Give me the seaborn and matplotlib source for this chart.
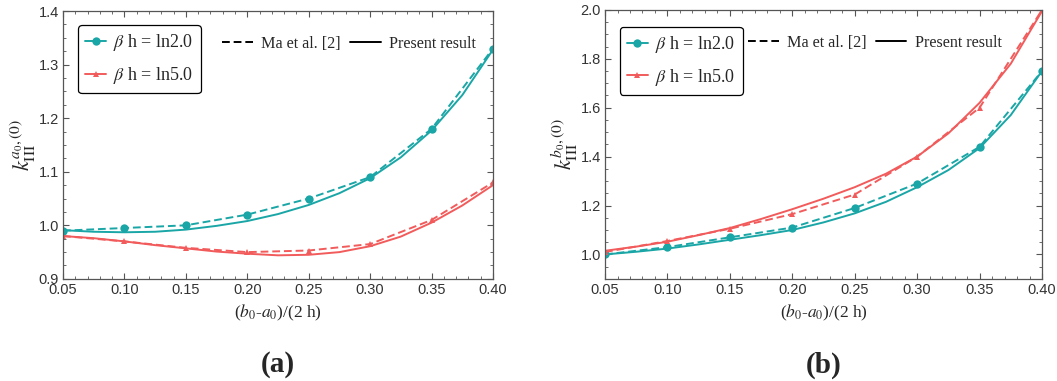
import numpy as np
import pandas as pd
import matplotlib
matplotlib.use("Agg")
import matplotlib.pyplot as plt
from matplotlib.lines import Line2D
from matplotlib.ticker import MultipleLocator, AutoMinorLocator, FormatStrFormatter
import seaborn as sns

# data

x_pts = [0.05, 0.10, 0.15, 0.20, 0.25, 0.30, 0.35, 0.40]
x_fine = [0.05, 0.075, 0.10, 0.125, 0.15, 0.175, 0.20, 0.225,
          0.25, 0.275, 0.30, 0.325, 0.35, 0.375, 0.40]

# panel (a)
a_ln2_ma = [0.990, 0.995, 1.000, 1.020, 1.050, 1.090, 1.180, 1.330]
a_ln5_ma = [0.980, 0.970, 0.958, 0.950, 0.953, 0.965, 1.010, 1.080]
a_ln2_present = [0.991, 0.988, 0.987, 0.988, 0.992, 0.999, 1.008, 1.021,
                 1.038, 1.060, 1.088, 1.127, 1.177, 1.243, 1.328]
a_ln5_present = [0.980, 0.976, 0.970, 0.963, 0.957, 0.951, 0.947, 0.944,
                 0.945, 0.950, 0.961, 0.979, 1.005, 1.037, 1.075]

# panel (b)
b_ln2_ma = [1.000, 1.030, 1.070, 1.110, 1.190, 1.290, 1.440, 1.750]
b_ln5_ma = [1.010, 1.055, 1.105, 1.165, 1.245, 1.400, 1.600, 2.000]
b_ln2_present = [1.000, 1.011, 1.024, 1.041, 1.060, 1.079, 1.100, 1.131,
                 1.168, 1.215, 1.275, 1.345, 1.435, 1.570, 1.750]
b_ln5_present = [1.015, 1.032, 1.052, 1.079, 1.108, 1.145, 1.185, 1.228,
                 1.275, 1.330, 1.400, 1.495, 1.620, 1.780, 1.995]

series_labels = [r"$\beta$ h = ln2.0", r"$\beta$ h = ln5.0"]
ref_labels = ["Ma et al. [2]", "Present result"]
panel_labels = ["(a)", "(b)"]
y_labels = [r"$k_{\mathrm{III}}^{a_0,(0)}$", r"$k_{\mathrm{III}}^{b_0,(0)}$"]
x_label = r"($b_0$-$a_0$)/(2 h)"

teal = "#1aa6a6"
red = "#f25b5b"

sns.set_theme(style="ticks")
plt.rcParams["font.family"] = ["Liberation Serif", "DejaVu Serif"]
plt.rcParams["mathtext.fontset"] = "stix"

fig = plt.figure(figsize=(10.57, 3.81), dpi=100)
ax_a = fig.add_axes([0.0596, 0.268, 0.4068, 0.703])
ax_b = fig.add_axes([0.5724, 0.268, 0.4134, 0.706])

panels = [
    (ax_a, a_ln2_ma, a_ln5_ma, a_ln2_present, a_ln5_present, (0.9, 1.4), 0.1,
     (0.035, 0.948), (0.370, 0.877)),
    (ax_b, b_ln2_ma, b_ln5_ma, b_ln2_present, b_ln5_present, (0.9, 2.0), 0.2,
     (0.034, 0.937), (0.327, 0.877)),
]

for i, (ax, ln2_ma, ln5_ma, ln2_pr, ln5_pr, ylim, ystep, anc1, anc2) in enumerate(panels):
    pts = pd.DataFrame({"x": x_pts, "ln2": ln2_ma, "ln5": ln5_ma})
    fine = pd.DataFrame({"x": x_fine, "ln2": ln2_pr, "ln5": ln5_pr})

    sns.lineplot(data=fine, x="x", y="ln2", ax=ax, color=teal, lw=1.4)
    sns.lineplot(data=fine, x="x", y="ln5", ax=ax, color=red, lw=1.4)
    sns.lineplot(data=pts, x="x", y="ln2", ax=ax, color=teal, lw=1.4,
                 linestyle=(0, (4, 2)), marker="o", markersize=6,
                 markeredgewidth=0)
    sns.lineplot(data=pts, x="x", y="ln5", ax=ax, color=red, lw=1.4,
                 linestyle=(0, (4, 2)), marker="^", markersize=5,
                 markeredgewidth=0)

    ax.set_xlim(0.05, 0.40)
    ax.set_ylim(*ylim)
    ax.xaxis.set_major_locator(MultipleLocator(0.05))
    ax.yaxis.set_major_locator(MultipleLocator(ystep))
    ax.xaxis.set_minor_locator(AutoMinorLocator(5))
    ax.yaxis.set_minor_locator(AutoMinorLocator(4))
    ax.xaxis.set_major_formatter(FormatStrFormatter("%.2f"))
    ax.yaxis.set_major_formatter(FormatStrFormatter("%.1f"))
    ax.tick_params(which="both", direction="in", top=True, right=True,
                   color="#555555")
    ax.tick_params(which="major", length=4, width=0.8, pad=3)
    ax.tick_params(which="minor", length=2, width=0.6)
    for lab in ax.get_xticklabels() + ax.get_yticklabels():
        lab.set_family(["Liberation Sans"])
        lab.set_fontsize(10.5)
        lab.set_color("#333333")
    for sp in ax.spines.values():
        sp.set_color("#555555")
        sp.set_linewidth(0.9)

    ax.set_xlabel(x_label, fontsize=12.5, labelpad=4)
    ax.set_ylabel(y_labels[i], fontsize=16, labelpad=0)

    h1 = [Line2D([], [], color=teal, marker="o", markersize=6, lw=1.4,
                 markeredgewidth=0),
          Line2D([], [], color=red, marker="^", markersize=5, lw=1.4,
                 markeredgewidth=0)]
    leg1 = ax.legend(h1, series_labels, loc="upper left", bbox_to_anchor=anc1,
                     borderaxespad=0, fontsize=13,
                     frameon=True, fancybox=True, edgecolor="black",
                     framealpha=1, handlelength=1.15, handletextpad=0.4,
                     labelspacing=0.65, borderpad=0.4)
    leg1.get_frame().set_linewidth(0.9)
    ax.add_artist(leg1)

    h2 = [Line2D([], [], color="black", lw=1.4, linestyle=(0, (4, 2))),
          Line2D([], [], color="black", lw=1.4)]
    ax.legend(h2, ref_labels, loc="center left", bbox_to_anchor=anc2,
              borderaxespad=0, borderpad=0, ncol=2, frameon=False,
              fontsize=11.6, handlelength=1.9, handletextpad=0.5,
              columnspacing=0.6)

    ax.text(0.5, -0.321, panel_labels[i], transform=ax.transAxes,
            ha="center", va="center", fontsize=21, fontweight="bold")

fig.savefig("out.png", dpi=100)
